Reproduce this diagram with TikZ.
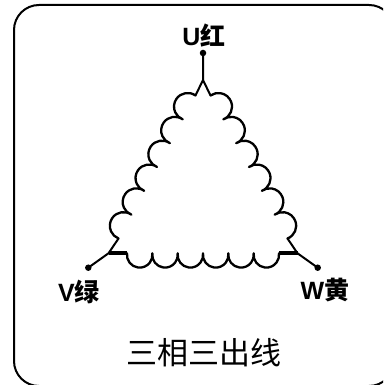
\documentclass[tikz,border=0pt]{standalone}
\usepackage{fontspec}
\setmainfont{Liberation Sans}
\newfontfamily\cjk{Noto Sans CJK SC}
\newcommand\drawcoil[3]{%
  \begin{scope}[shift={(#1)}, rotate=#2]
    \pgfmathsetmacro\hw{#3/12}
    \pgfmathsetmacro\cr{\hw/cos(7)}
    \draw[coilline] (0,0) foreach \k in {1,...,6} { arc[start angle=173, end angle=367, radius=\cr] };
  \end{scope}}
\begin{document}
\begin{tikzpicture}[x=1pt,y=1pt,
  coilline/.style={line width=2.3pt, line join=round, line cap=round},
  wire/.style={line width=2pt, line cap=round, line join=round},
  bar/.style={line width=4.2pt},
  frame/.style={line width=2pt, rounded corners=25pt},
  term/.style={circle, fill=black, inner sep=0pt, minimum size=6.5pt},
  lab/.style={font=\bfseries\fontsize{25}{25}\selectfont, inner sep=0pt}]
\useasboundingbox (0,0) rectangle (383,385);
\clip (0,0) rectangle (383,385);
\draw[frame] (14,-1) rectangle (394,380);

\coordinate (JU) at (203,305);
\coordinate (LT) at (195.5,289.5);
\coordinate (RT) at (210.5,289.5);
\coordinate (LB) at (118.5,146.5);
\coordinate (RB) at (287.5,146.5);
\coordinate (JV) at (108.5,131.7);
\coordinate (JW) at (297.5,131.7);
\coordinate (BL) at (127,131.7);
\coordinate (BR) at (279,131.7);

\node[term] (U) at (203,332) {};
\node[term] (V) at (88.3,117.3) {};
\node[term] (W) at (317.7,117.3) {};

\draw[wire] (U.center) -- (JU) -- (LT);
\draw[wire] (JU) -- (RT);
\draw[wire] (V.center) -- (JV) -- (LB);
\draw[wire] (W.center) -- (JW) -- (RB);
\draw[bar] (JV) -- (BL);
\draw[bar] (BR) -- (JW);

\drawcoil{BL}{0}{152}
\drawcoil{RB}{118.3}{162.4}
\drawcoil{LT}{241.7}{162.4}

\node[lab] (Ulab) at (204,349) {U{\cjk 红}};
\node[lab] (Vlab) at (79,93) {V{\cjk 绿}};
\node[lab] (Wlab) at (325,94.5) {W{\cjk 黄}};
\node[font=\cjk\fontsize{31}{31}\selectfont, inner sep=0pt] (title) at (204,32.5) {三相三出线};
\end{tikzpicture}
\end{document}
